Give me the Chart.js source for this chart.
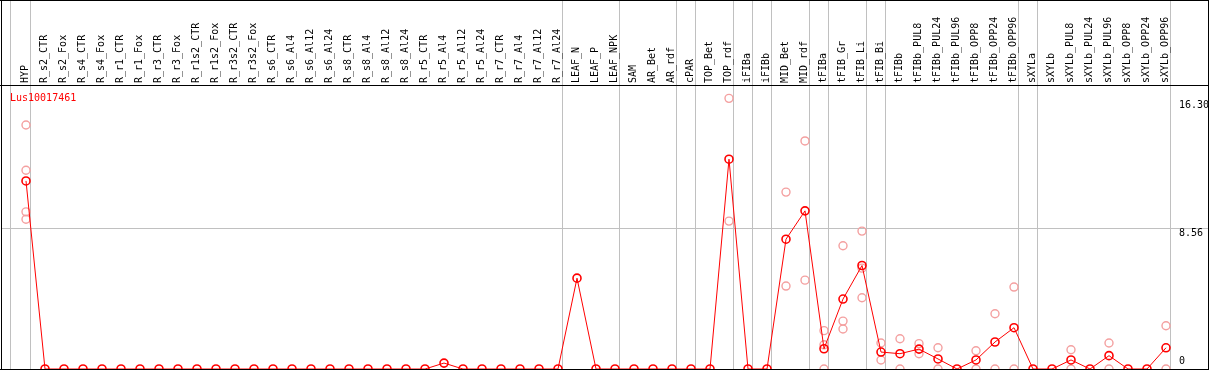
<!DOCTYPE html>
<html>
<head>
<meta charset="utf-8">
<script src="https://cdn.jsdelivr.net/npm/chart.js@4.4.0/dist/chart.umd.min.js"></script>
<style>
html,body{margin:0;padding:0;background:#fff;}
canvas{display:block;}
</style>
</head>
<body>
<canvas id="c" width="1209" height="370"></canvas>
<script>
const geneName = "Lus10017461";
const categories = ["HYP","R_s2_CTR","R_s2_Fox","R_s4_CTR","R_s4_Fox","R_r1_CTR","R_r1_Fox","R_r3_CTR","R_r3_Fox","R_r1s2_CTR","R_r1s2_Fox","R_r3s2_CTR","R_r3s2_Fox","R_s6_CTR","R_s6_Al4","R_s6_Al12","R_s6_Al24","R_s8_CTR","R_s8_Al4","R_s8_Al12","R_s8_Al24","R_r5_CTR","R_r5_Al4","R_r5_Al12","R_r5_Al24","R_r7_CTR","R_r7_Al4","R_r7_Al12","R_r7_Al24","LEAF_N","LEAF_P","LEAF_NPK","SAM","AR_Bet","AR_rdf","cPAR","TOP_Bet","TOP_rdf","iFIBa","iFIBb","MID_Bet","MID_rdf","tFIBa","tFIB_Gr","tFIB_Li","tFIB_Bi","tFIBb","tFIBb_PUL8","tFIBb_PUL24","tFIBb_PUL96","tFIBb_OPP8","tFIBb_OPP24","tFIBb_OPP96","sXYLa","sXYLb","sXYLb_PUL8","sXYLb_PUL24","sXYLb_PUL96","sXYLb_OPP8","sXYLb_OPP24","sXYLb_OPP96"];
// group sizes (separated by vertical grey lines)
const groupSizes = [1,28,3,3,1,2,1,1,2,1,2,1,7,1,7];
const meanValues = [11.43,0,0,0,0,0,0,0,0,0,0,0,0,0,0,0,0,0,0,0,0,0,0.36,0,0,0,0,0,0,5.52,0,0,0,0,0,0,0,12.75,0,0,7.89,9.61,1.23,4.25,6.29,1.03,0.93,1.21,0.61,0,0.55,1.64,2.51,0,0,0.55,0,0.81,0,0,1.29];
const N = null;
const rep1 = [14.83,N,N,N,N,N,N,N,N,N,N,N,N,N,N,N,N,N,N,N,N,N,N,N,N,N,N,N,N,N,N,N,N,N,N,N,N,16.45,N,N,10.75,13.86,2.33,7.49,8.38,1.58,1.84,1.54,1.29,N,1.11,3.36,4.98,N,N,1.17,N,1.58,N,N,2.63];
const rep2 = [12.08,N,N,N,N,N,N,N,N,N,N,N,N,N,N,N,N,N,N,N,N,N,N,N,N,N,N,N,N,N,N,N,N,N,N,N,N,8.99,N,N,5.04,5.40,1.47,2.91,4.33,0.55,0,0.93,0,N,0,0,0,N,N,0,N,0,N,N,0];
const rep3 = [9.55,N,N,N,N,N,N,N,N,N,N,N,N,N,N,N,N,N,N,N,N,N,N,N,N,N,N,N,N,N,N,N,N,N,N,N,N,N,N,N,N,N,0,2.43,6.13,N,N,N,N,N,N,N,N,N,N,N,N,N,N,N,N];
const rep4 = [9.10,N,N,N,N,N,N,N,N,N,N,N,N,N,N,N,N,N,N,N,N,N,N,N,N,N,N,N,N,N,N,N,N,N,N,N,N,N,N,N,N,N,N,N,N,N,N,N,N,N,N,N,N,N,N,N,N,N,N,N,N];
const yTickValues = [0, 8.56, 16.30];
const yTickLabels = ["0", "8.56", "16.30"];

const FONT = '10px "DejaVu Sans Mono", "Liberation Mono", monospace';
const RED = '#ff0000';
const PINK = '#f4a0a0';

function pts(arr){ const o=[]; arr.forEach((v,i)=>{ if(v!==null) o.push({x:i,y:v}); }); return o; }

const repPts = [].concat(pts(rep1), pts(rep2), pts(rep3), pts(rep4));

const frame = {
  id: 'frame',
  beforeDatasetsDraw(chart){
    const ctx = chart.ctx, xs = chart.scales.x, ys = chart.scales.y;
    const W = chart.width, H = chart.height;
    ctx.save();
    ctx.fillStyle = '#c0c0c0';
    const yg = Math.round(ys.getPixelForValue(yTickValues[1]));
    ctx.fillRect(1, yg, W-2, 1);
    let b = -1;
    const bounds = [-0.8];
    groupSizes.forEach(s => { b += s; bounds.push(b + 0.24); });
    bounds.forEach(v => {
      const px = Math.floor(xs.getPixelForValue(v));
      ctx.fillRect(px, 0, 1, H - 1);
    });
    ctx.fillStyle = '#000';
    ctx.fillRect(0, 0, W, 1);
    ctx.fillRect(0, 85, W, 1);
    ctx.fillRect(0, 369, W, 1);
    ctx.fillRect(1, 0, 1, H);
    ctx.fillRect(W-1, 0, 1, H);
    ctx.font = FONT;
    ctx.fillStyle = '#000';
    ctx.textAlign = 'left';
    ctx.textBaseline = 'middle';
    categories.forEach((c, i) => {
      const px = xs.getPixelForValue(i);
      ctx.save();
      ctx.translate(px - 1, 83);
      ctx.rotate(-Math.PI/2);
      ctx.fillText(c, 0, 0);
      ctx.restore();
    });
    yTickValues.forEach((v, k) => {
      const py = ys.getPixelForValue(v);
      ctx.fillText(yTickLabels[k], 1179, v === 0 ? py - 8 : py + 5);
    });
    ctx.fillStyle = RED;
    ctx.fillText(geneName, 10, 98);
    ctx.restore();
  }
};

new Chart(document.getElementById('c'), {
  type: 'line',
  data: {
    datasets: [
      {
        label: 'mean',
        data: pts(meanValues),
        borderColor: RED,
        borderWidth: 1,
        pointRadius: 4,
        pointBorderWidth: 1.6,
        pointBorderColor: RED,
        pointBackgroundColor: 'rgba(0,0,0,0)',
        tension: 0,
        fill: false
      },
      {
        label: 'replicates',
        data: repPts,
        showLine: false,
        pointRadius: 4,
        pointBorderWidth: 1.4,
        pointBorderColor: PINK,
        pointBackgroundColor: 'rgba(0,0,0,0)'
      }
    ]
  },
  options: {
    responsive: false,
    animation: false,
    layout: { autoPadding: false, padding: { left: 1, right: 1, top: 85, bottom: 1 } },
    plugins: { legend: { display: false }, tooltip: { enabled: false } },
    scales: {
      x: { type: 'linear', display: false, min: -25/19, max: 1182/19 },
      y: { type: 'linear', display: false, min: 0, max: 17.26 }
    }
  },
  plugins: [frame]
});
</script>
</body>
</html>
